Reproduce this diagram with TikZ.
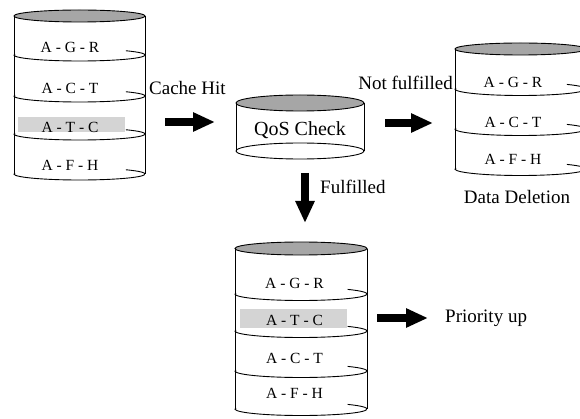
\documentclass[tikz,border=0pt]{standalone}
\usepackage{fontspec}
\setmainfont{Liberation Serif}
\usetikzlibrary{positioning}
\usetikzlibrary{arrows.meta}
\tikzset{
	drumtop/.style={
		draw=black, line width=0.9pt,
		fill=black!35},
	drumline/.style={draw=black, line width=0.9pt},
	band/.style={fill=black!17},
	cell/.style={
		inner sep=0pt,
		font=\fontsize{15.5}{17}\selectfont},
	tag/.style={
		inner sep=0pt,
		font=\fontsize{19}{21}\selectfont},
	fat/.style={
		line width=8pt,
		-{Triangle[length=22pt,width=18pt]}},
}

\begin{document}
\begin{tikzpicture}[x=1pt,y=1pt]
	\useasboundingbox (0,0) rectangle (580,418);
	\clip (0,0) rectangle (580,418);
	
	% cache
	\draw[drumline] (14,402) -- (14,244) (145,402) -- (145,244);
	\fill[band] (18,301) rectangle (125,286);
	\foreach \y in {363,322,284,244}
		\draw[drumline] (79.5,\y) ++(170:65.5 and 6) arc[start angle=170, end angle=405, x radius=65.5, y radius=6];
	\draw[drumtop] (79.5,402) ellipse [x radius=65.5, y radius=6];
	\node[cell] (agr) at (70,371) {A - G - R};
	\node[cell] (act) at (70,330) {A - C - T};
	\node[cell] (atc) at (70,291) {A - T - C};
	\node[cell] (afh) at (70,253) {A - F - H};
	
	% qos
	\draw[drumline] (236,315) -- (236,267) (364,315) -- (364,267);
	\draw[drumline] (300,267) ellipse [x radius=64, y radius=8];
	\draw[drumtop] (300,315) ellipse [x radius=64, y radius=8];
	\node[inner sep=0pt, font=\fontsize{20}{22}\selectfont] (qos) at (300,288) {QoS Check};
	
	% deletion
	\draw[drumline] (455,369) -- (455,249) (586,369) -- (586,249);
	\foreach \y in {329,289,249}
		\draw[drumline] (520.5,\y) ++(170:65.5 and 6.5) arc[start angle=170, end angle=405, x radius=65.5, y radius=6.5];
	\draw[drumtop] (520.5,369) ellipse [x radius=65.5, y radius=6];
	\node[cell] (dagr) at (513,336) {A - G - R};
	\node[cell] (dact) at (513,296) {A - C - T};
	\node[cell] (dafh) at (513,259) {A - F - H};
	
	% priority
	\draw[drumline] (235,169.5) -- (235,9) (367,169.5) -- (367,9);
	\fill[band] (240,109) rectangle (347,90);
	\foreach \y in {124,87,47,9}
		\draw[drumline] (301,\y) ++(170:66 and 6.5) arc[start angle=170, end angle=405, x radius=66, y radius=6.5];
	\draw[drumtop] (301,169.5) ellipse [x radius=66, y radius=6.5];
	\node[cell] (pagr) at (294.5,135) {A - G - R};
	\node[cell] (patc) at (294.5,98) {A - T - C};
	\node[cell] (pact) at (294.5,60) {A - C - T};
	\node[cell] (pafh) at (294.5,25) {A - F - H};
	
	% arrows
	\coordinate (hitfrom) at (165,296);
	\coordinate (hitto) at (215,296);
	\coordinate (delfrom) at (385,295);
	\coordinate (delto) at (433,295);
	\coordinate (okfrom) at (305,245);
	\coordinate (okto) at (305,195);
	\coordinate (upfrom) at (377,100);
	\coordinate (upto) at (428,100);
	\draw[fat] (hitfrom) -- (hitto);
	\draw[fat] (delfrom) -- (delto);
	\draw[fat] (okfrom) -- (okto);
	\draw[fat] (upfrom) -- (upto);
	
	\node[tag, anchor=west] (hit) at (149,330) {Cache Hit};
	\node[tag, anchor=east] (notok) at (453,335) {Not fulfilled};
	\node[tag, anchor=west] (ok) at (320,231) {Fulfilled};
	\node[tag] (del) at (517,221) {Data Deletion};
	\node[tag, anchor=west] (prio) at (445,100) {Priority up};
	
\end{tikzpicture}
\end{document}
